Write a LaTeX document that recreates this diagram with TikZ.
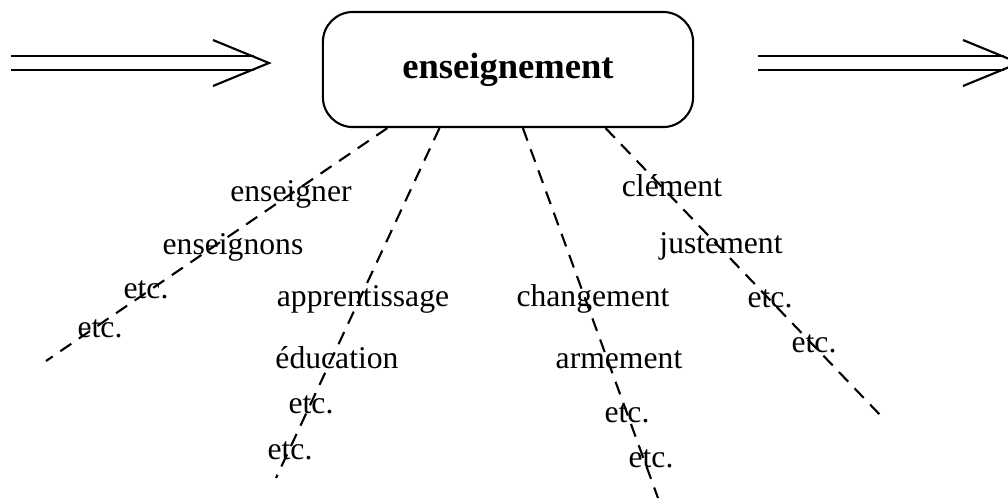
\documentclass[tikz,border=0pt]{standalone}
\usepackage{fontspec}
\setmainfont{Liberation Serif}
\usepackage{tikz}
\usetikzlibrary{positioning,calc}

\begin{document}
\begin{tikzpicture}[x=0.01cm, y=-0.01cm,
    flux/.style={double, double distance=3.2pt, line width=0.6pt, shorten >=0.15cm},
    pointe/.style={line width=0.6pt},
    lien/.style={line width=0.6pt, dash pattern=on 3.8pt off 2.6pt},
    mot/.style={anchor=base, inner sep=0pt, font=\fontsize{9}{11}\selectfont}]
    \useasboundingbox (0,0) rectangle (1008,502);

    % Boite centrale
    \node[draw, line width=0.6pt, rounded corners=0.3cm, minimum width=3.7cm, minimum height=1.15cm,
          font=\fontsize{10.4}{12}\selectfont\bfseries] (box) at (508,69.5) {enseignement};

    % Fleche d'entree
    \coordinate (entree) at (11,63);
    \coordinate (entreePointe) at (269,63);
    \draw[flux] (entree) -- (entreePointe);
    \draw[pointe] ([shift={(-56,-23)}]entreePointe) -- (entreePointe) -- ([shift={(-56,23)}]entreePointe);

    % Fleche de sortie
    \coordinate (sortie) at (758,63);
    \coordinate (sortiePointe) at (1019,63);
    \draw[flux] (sortie) -- (sortiePointe);
    \draw[pointe] ([shift={(-56,-23)}]sortiePointe) -- (sortiePointe) -- ([shift={(-56,23)}]sortiePointe);

    % Liens pointilles
    \coordinate (fin1) at (46,361);
    \coordinate (fin2) at (276,478);
    \coordinate (fin3) at (658,498);
    \coordinate (fin4) at (883,418);
    \draw[lien] ($(box.south west)!0.176!(box.south east)$) -- (fin1);
    \draw[lien] ($(box.south west)!0.316!(box.south east)$) -- (fin2);
    \draw[lien] ($(box.south west)!0.54!(box.south east)$) -- (fin3);
    \draw[lien] ($(box.south west)!0.762!(box.south east)$) -- (fin4);

    % Flexions
    \node[mot] (enseigner) at (291,201) {enseigner};
    \node[mot] (enseignons) at (233,254) {enseignons};
    \node[mot] (etcA) at (146,298) {etc.};
    \node[mot] (etcB) at (100,337) {etc.};

    % Synonymes
    \node[mot] (apprentissage) at (363,306) {apprentissage};
    \node[mot] (education) at (337,368) {éducation};
    \node[mot] (etcC) at (311,413) {etc.};
    \node[mot] (etcD) at (290,459) {etc.};

    % Suffixe -ement
    \node[mot] (changement) at (593,306) {changement};
    \node[mot] (armement) at (619,368) {armement};
    \node[mot] (etcE) at (627,422) {etc.};
    \node[mot] (etcF) at (651,467) {etc.};

    % Suffixe -ment
    \node[mot] (clement) at (672,196) {clément};
    \node[mot] (justement) at (721,253) {justement};
    \node[mot] (etcG) at (770,307) {etc.};
    \node[mot] (etcH) at (814,352) {etc.};
\end{tikzpicture}
\end{document}
